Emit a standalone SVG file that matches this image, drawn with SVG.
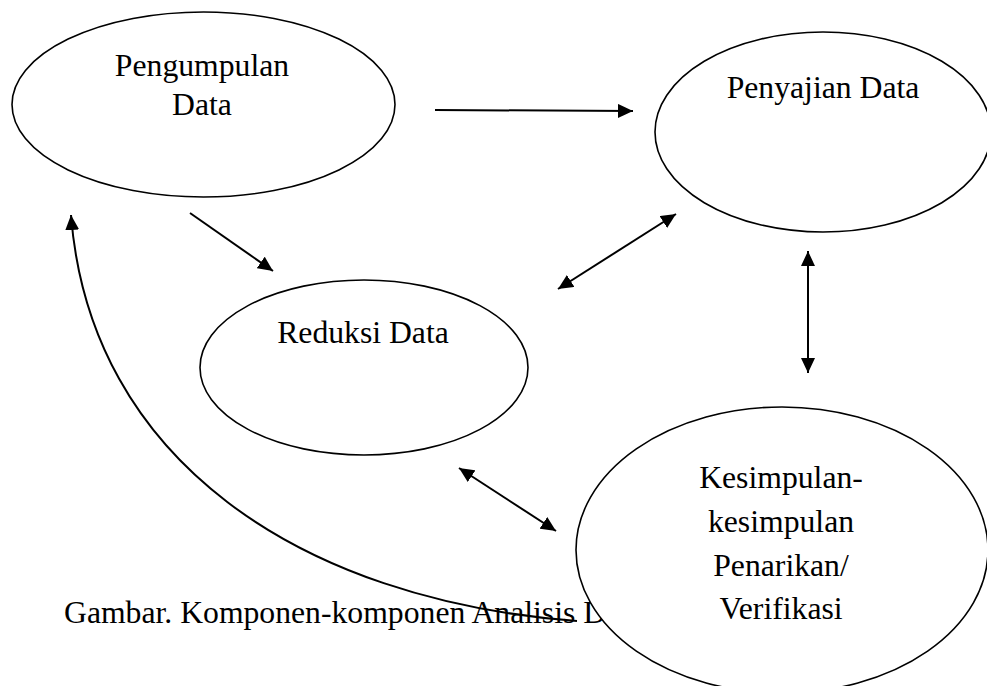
<svg xmlns="http://www.w3.org/2000/svg" width="987" height="686" viewBox="0 0 987 686">
<style>
.node{fill:#fff;stroke:#000;stroke-width:1.6}
.lbl{font-family:"Liberation Serif","Times New Roman",serif;font-size:31.7px;fill:#000;text-anchor:middle}
.cap{font-family:"Liberation Serif","Times New Roman",serif;font-size:31.7px;fill:#000}
.conn{fill:none;stroke:#000;stroke-width:2}
</style>
<defs>
<marker id="ah" markerUnits="userSpaceOnUse" markerWidth="16" markerHeight="14" refX="15" refY="7" orient="auto-start-reverse">
<path d="M0,0 L15,7 L0,14 z" fill="#000"/>
</marker>
</defs>
<rect width="987" height="686" fill="#fff"/>
<g id="pengumpulan">
<ellipse class="node" cx="203.5" cy="104.5" rx="191.5" ry="92.5"/>
<text class="lbl" x="202" y="76">Pengumpulan</text>
<text class="lbl" x="202" y="115">Data</text>
</g>
<g id="penyajian">
<ellipse class="node" cx="823" cy="132" rx="168" ry="100"/>
<text class="lbl" x="823" y="98">Penyajian Data</text>
</g>
<g id="reduksi">
<ellipse class="node" cx="364" cy="367.5" rx="164" ry="87.5"/>
<text class="lbl" x="363" y="343">Reduksi Data</text>
</g>
<text id="caption" class="cap" x="64" y="623">Gambar. Komponen-komponen Analisis Data</text>
<g id="connectors">
<line class="conn" x1="435" y1="110" x2="633" y2="111" marker-end="url(#ah)"/>
<line class="conn" x1="190" y1="213" x2="273" y2="271" marker-end="url(#ah)"/>
<line class="conn" x1="558" y1="289" x2="676" y2="214" marker-start="url(#ah)" marker-end="url(#ah)"/>
<line class="conn" x1="808" y1="251" x2="808" y2="373" marker-start="url(#ah)" marker-end="url(#ah)"/>
<line class="conn" x1="459" y1="468" x2="556" y2="531" marker-start="url(#ah)" marker-end="url(#ah)"/>
<path class="conn" d="M577,621 C300,600 90,460 71,215" marker-end="url(#ah)"/>
</g>
<g id="kesimpulan">
<ellipse class="node" cx="782" cy="550" rx="206" ry="143"/>
<text class="lbl" x="781" y="488">Kesimpulan-</text>
<text class="lbl" x="781" y="532">kesimpulan</text>
<text class="lbl" x="781" y="576">Penarikan/</text>
<text class="lbl" x="781" y="619">Verifikasi</text>
</g>
</svg>
